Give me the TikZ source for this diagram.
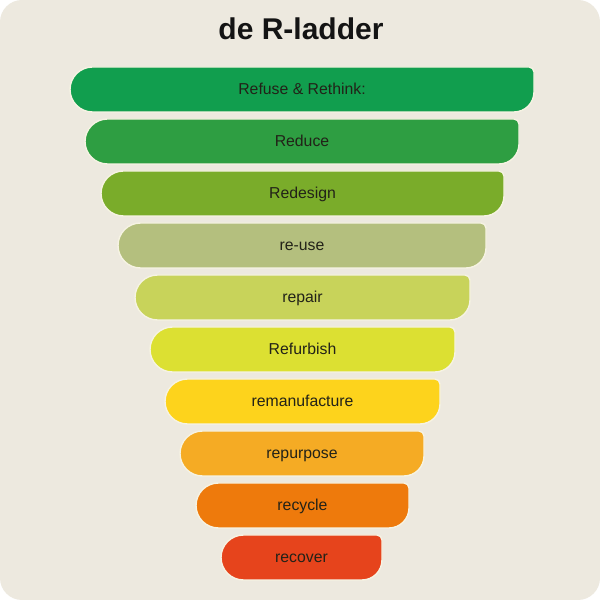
\documentclass[tikz,border=0pt]{standalone}
\usepackage{fontspec}
\setmainfont{Liberation Sans}
\definecolor{bgc}{HTML}{EDE9DF}
\definecolor{edgec}{HTML}{F6F3E3}
\definecolor{txt}{HTML}{222218}
\definecolor{c1}{HTML}{119E4E}
\definecolor{c2}{HTML}{2E9E42}
\definecolor{c3}{HTML}{7AAC2A}
\definecolor{c4}{HTML}{B4BF7E}
\definecolor{c5}{HTML}{C8D35A}
\definecolor{c6}{HTML}{DCE032}
\definecolor{c7}{HTML}{FDD31C}
\definecolor{c8}{HTML}{F5AB24}
\definecolor{c9}{HTML}{EE7A0C}
\definecolor{c10}{HTML}{E6441C}
\tikzset{
  barshape/.style={draw=edgec, line width=1.4pt},
  bartext/.style={text=txt, font=\fontsize{15.8}{18}\selectfont, inner sep=0pt, anchor=base},
  titletext/.style={text=black!92, font=\bfseries\fontsize{30}{34}\selectfont, inner sep=0pt, anchor=base}
}
% \rbar{name}{colour}{x1}{x2}{ytop}{label}
\newcommand{\rbar}[6]{%
  \pgfmathsetmacro{\yb}{#5-45}%
  \pgfmathsetmacro{\xl}{#3+22.5}%
  \pgfmathsetmacro{\xr}{#4-5}%
  \pgfmathsetmacro{\yr}{\yb+20}%
  \pgfmathsetmacro{\xc}{(#3+#4)/2}%
  \pgfmathsetmacro{\yc}{#5-27.5}%
  \fill[#2, barshape] (\xl, #5) -- (\xr, #5)
     arc[start angle=90, end angle=0, radius=5]
     -- (#4, \yr)
     arc[start angle=0, end angle=-90, radius=20]
     -- (\xl, \yb)
     arc[start angle=270, end angle=90, radius=22.5] -- cycle;
  \node[bartext] (#1) at (\xc, \yc) {#6};%
}
\begin{document}
\begin{tikzpicture}[x=1pt,y=1pt]
\useasboundingbox (0,0) rectangle (600,600);
\fill[white] (0,0) rectangle (600,600);
\fill[bgc, rounded corners=22pt] (0,0) rectangle (600,600);
\node[titletext] (title) at (301,560) {de R-ladder};
\rbar{b1}{c1}{70}{534}{533}{Refuse \& Rethink:}
\rbar{b2}{c2}{85}{519}{481}{Reduce}
\rbar{b3}{c3}{101}{504}{429}{Redesign}
\rbar{b4}{c4}{118}{486}{377}{re-use}
\rbar{b5}{c5}{135}{470}{325}{repair}
\rbar{b6}{c6}{150}{455}{273}{Refurbish}
\rbar{b7}{c7}{165}{440}{221}{remanufacture}
\rbar{b8}{c8}{180}{424}{169}{repurpose}
\rbar{b9}{c9}{196}{409}{117}{recycle}
\rbar{b10}{c10}{221}{382}{65}{recover}
\end{tikzpicture}
\end{document}
